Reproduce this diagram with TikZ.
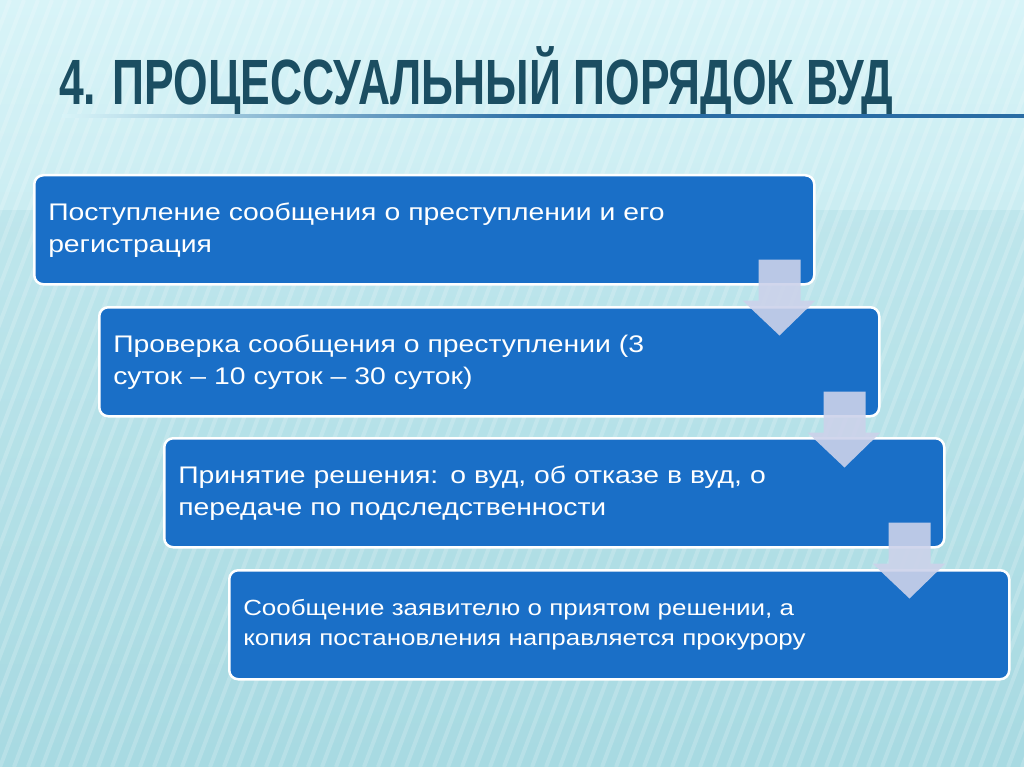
\documentclass[tikz,border=0pt]{standalone}
\usepackage{fontspec}
\setmainfont{Liberation Sans}
\newfontfamily\titlefont[FakeStretch=0.694]{Liberation Sans Bold}
\newfontfamily\stepfont[FakeStretch=1.18]{Liberation Sans}
\usepackage{tikz}
\usetikzlibrary{positioning, backgrounds}
\definecolor{bgTop}{RGB}{216, 244, 248}
\definecolor{bgBottom}{RGB}{168, 218, 226}
\definecolor{titleColor}{RGB}{27, 78, 98}
\definecolor{ruleColor}{RGB}{42, 108, 164}
\definecolor{stepFill}{RGB}{26, 111, 199}
\definecolor{arrowFill}{RGB}{204, 210, 234}
\tikzset{
    stepbox/.style={
        draw=white,
        line width=2.5pt,
        fill=stepFill,
        rounded corners=9pt,
        anchor=north west,
        minimum width=780pt,
        minimum height=109pt,
        text width=752pt,
        inner xsep=14pt,
        align=left,
        text=white,
        font=\stepfont\fontsize{24}{32}\selectfont
    },
    flowarrow/.pic={
        \fill[arrowFill, opacity=0.9]
            (-57,-26) -- (-15,-26) -- (-15,15) -- (0,15)
            -- (-36,50) -- (-73,15) -- (-57,15) -- cycle;
    }
}
\begin{document}
\begin{tikzpicture}[x=1pt, y=-1pt]
    % background
    \shade[top color=bgTop, bottom color=bgBottom] (0,0) rectangle (1024,767);
    \fill[bgBottom, opacity=0.35] (0,210) rectangle (1024,767);
    \begin{scope}
        \clip (0,0) rectangle (1024,767);
        \foreach \i in {-40,...,80}
            \draw[white, opacity=0.18, line width=4pt] (\i*14,767) -- (\i*14+290,0);
    \end{scope}
    \useasboundingbox (0,0) rectangle (1024,767);

    % title
    \node[anchor=base west, inner sep=0pt, text=titleColor,
          font=\titlefont\fontsize{64}{64}\selectfont] (title) at (59,105)
        {4. ПРОЦЕССУАЛЬНЫЙ ПОРЯДОК ВУД};
    \shade[left color=bgTop, right color=ruleColor, middle color=ruleColor]
        (62,115) rectangle (1024,117.5);

    % steps
    \node[stepbox] (s1) at (33,174)
        {Поступление сообщения о преступлении и его\\регистрация};
    \node[stepbox] (s2) at (98,306)
        {Проверка сообщения о преступлении (3\\суток – 10 суток – 30 суток)};
    \node[stepbox] (s3) at (163,437)
        {Принятие решения: о вуд, об отказе в вуд, о\\передаче по подследственности};
    \node[stepbox, font=\stepfont\fontsize{22}{30}\selectfont] (s4) at (228,569)
        {Сообщение заявителю о приятом решении, а\\копия постановления направляется прокурору};

    % arrows
    \pic at (s1.south east) {flowarrow};
    \pic at (s2.south east) {flowarrow};
    \pic at (s3.south east) {flowarrow};
\end{tikzpicture}
\end{document}
